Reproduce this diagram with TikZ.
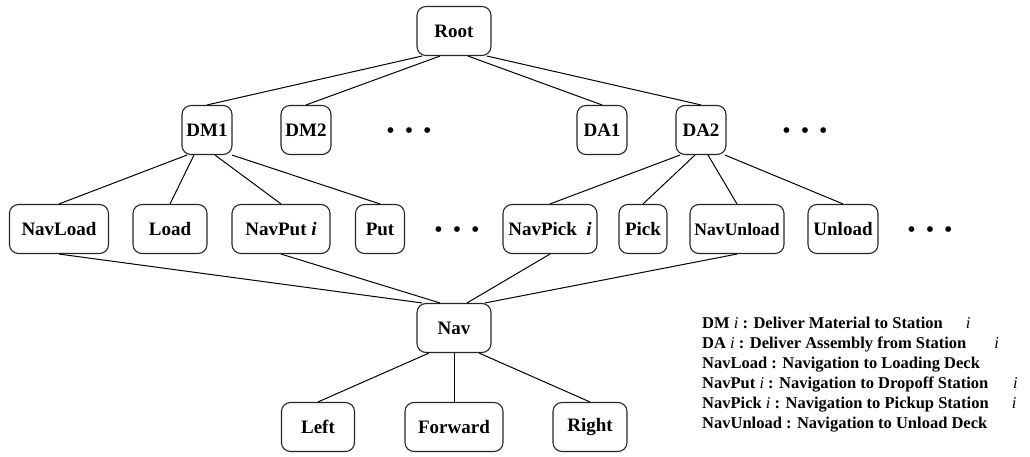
\documentclass[tikz,border=0pt]{standalone}
\usepackage{fontspec}
\setmainfont{Liberation Serif}
\usetikzlibrary{positioning}

\newcommand{\vi}{{\mdseries\itshape i}}
\newcommand{\threedots}{\textbullet\hspace{10pt}\textbullet\hspace{10pt}\textbullet}

\begin{document}
\begin{tikzpicture}[x=1pt,y=-1pt,
    box/.style={draw=black!85,line width=1.1pt,rounded corners=9pt,
      minimum height=49pt,inner sep=0pt,
      font=\fontsize{19}{22}\selectfont\bfseries},
    dots/.style={inner sep=0pt,font=\fontsize{24}{26}\selectfont},
    link/.style={line width=1pt},
    legend/.style={align=left,inner sep=0pt,
      font=\fontsize{16.5}{20}\selectfont\bfseries}]
  \useasboundingbox (0,0) rectangle (1030,457);

  % top level
  \node[box,minimum width=74pt] (root) at (454,31) {Root};

  % delivery tasks
  \node[box,minimum width=50pt] (dmone) at (207,130) {DM1};
  \node[box,minimum width=50pt] (dmtwo) at (306,130) {DM2};
  \node[dots] (dotsa) at (409,133) {\threedots};
  \node[box,minimum width=50pt] (daone) at (602,130) {DA1};
  \node[box,minimum width=50pt] (datwo) at (701,130) {DA2};
  \node[dots] (dotsb) at (805,133) {\threedots};

  % subtasks
  \node[box,minimum width=99pt] (navload) at (59,229) {NavLoad};
  \node[box,minimum width=74pt] (load) at (170,229) {Load};
  \node[box,minimum width=98pt] (navput) at (281,229) {NavPut \textit{i}};
  \node[box,minimum width=49pt] (put) at (380,229) {Put};
  \node[dots] (dotsc) at (457,232) {\threedots};
  \node[box,minimum width=94pt] (navpick) at (550,229) {NavPick\ \ \textit{i}};
  \node[box,minimum width=48pt] (pick) at (643,229) {Pick};
  \node[box,minimum width=94pt,font=\fontsize{17.6}{20}\selectfont\bfseries] (navunload) at (737,229) {NavUnload};
  \node[box,minimum width=70pt] (unload) at (843,229) {Unload};
  \node[dots] (dotsd) at (930,232) {\threedots};

  % navigation
  \node[box,minimum width=74pt] (nav) at (454,328) {Nav};
  \node[box,minimum width=73pt] (left) at (318,427) {Left};
  \node[box,minimum width=98pt] (forward) at (454,427) {Forward};
  \node[box,minimum width=74pt] (right) at (590,427) {Right};

  \draw[link] ([xshift=-32pt]root.south) -- (dmone.north);
  \draw[link] ([xshift=-14pt]root.south) -- (dmtwo.north);
  \draw[link] ([xshift=14pt]root.south) -- (daone.north);
  \draw[link] ([xshift=33pt]root.south) -- (datwo.north);

  \draw[link] ([xshift=-20pt]dmone.south) -- (navload.north);
  \draw[link] ([xshift=-13pt]dmone.south) -- (load.north);
  \draw[link] ([xshift=8pt]dmone.south) -- (navput.north);
  \draw[link] ([xshift=25pt]dmone.south) -- (put.north);

  \draw[link] ([xshift=-21pt]datwo.south) -- (navpick.north);
  \draw[link] ([xshift=-6pt]datwo.south) -- (pick.north);
  \draw[link] ([xshift=7pt]datwo.south) -- (navunload.north);
  \draw[link] ([xshift=24pt]datwo.south) -- (unload.north);

  \draw[link] (navload.south) -- ([xshift=-32pt]nav.north);
  \draw[link] (navput.south) -- ([xshift=-14pt]nav.north);
  \draw[link] (navpick.south) -- ([xshift=13pt]nav.north);
  \draw[link] (navunload.south) -- ([xshift=31pt]nav.north);

  \draw[link] ([xshift=-25pt]nav.south) -- (left.north);
  \draw[link] (nav.south) -- (forward.north);
  \draw[link] ([xshift=25pt]nav.south) -- (right.north);

  % legend
  \node[legend,anchor=north west] (key) at (702,317) {%
    DM \vi\ : Deliver Material to Station\hspace{1.4em}\vi\\
    DA \vi\ : Deliver Assembly from Station\hspace{1.7em}\vi\\
    NavLoad : Navigation to Loading Deck\\
    NavPut \vi\ : Navigation to Dropoff Station\hspace{1.5em}\vi\\
    NavPick \vi\ : Navigation to Pickup Station\hspace{1.4em}\vi\\
    NavUnload : Navigation to Unload Deck};
\end{tikzpicture}
\end{document}
